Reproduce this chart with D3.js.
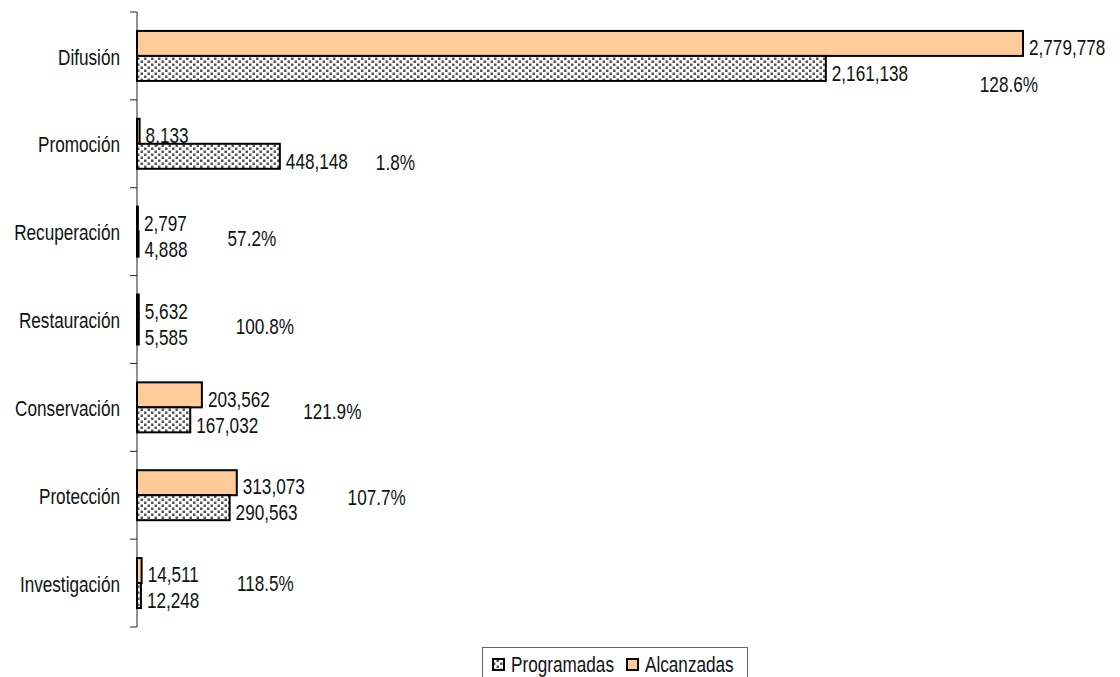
<!DOCTYPE html>
<html>
  <head>
    <meta charset="utf-8">
    <script src="https://cdn.jsdelivr.net/npm/d3@7/dist/d3.min.js"></script>
    <style>
      body{
        margin: 0;
        padding: 0;
        background-color: white;
      }
      svg text{
        font-family: "Liberation Sans", Arial, sans-serif;
        font-size: 22px;
        fill: #111;
      }
    </style>
  </head>
  <body>
    <div id="chart"></div>
    <script>
      // data
      var categories = ["Difusión", "Promoción", "Recuperación", "Restauración", "Conservación", "Protección", "Investigación"];
      var programadas = [2161138, 448148, 4888, 5585, 167032, 290563, 12248];
      var alcanzadas = [2779778, 8133, 2797, 5632, 203562, 313073, 14511];
      var seriesNames = ["Programadas", "Alcanzadas"];

      // hand placement of the % labels (dx from end of Programadas bar, dy from band centre)
      var pctNudge = [[154, 28], [96, 19], [89, 7], [97, 7], [113, 4], [118, 2], [96, 0]];

      var W = 1120, H = 677;
      var NARROW = 0.78; // squeeze Liberation Sans to look like Arial Narrow
      var svg = d3.select("#chart").append("svg").attr("width", W).attr("height", H);

      // text placed through a transform so it can be squeezed horizontally
      function narrowText(sel, xf, yf){
        return sel.append("text")
          .attr("transform", function(d, i){
            return "translate(" + xf(d, i) + "," + yf(d, i) + ") scale(" + NARROW + ",1)";
          })
          .attr("dy", "0.35em");
      }

      var defs = svg.append("defs");
      var pat = defs.append("pattern").attr("id", "dots")
        .attr("patternUnits", "userSpaceOnUse").attr("width", 7).attr("height", 6);
      pat.append("rect").attr("width", 7).attr("height", 6).attr("fill", "#fff");
      pat.append("rect").attr("x", 0.5).attr("y", 0.5).attr("width", 2.5).attr("height", 2.5).attr("fill", "#555");
      pat.append("rect").attr("x", 4).attr("y", 3.5).attr("width", 2.5).attr("height", 2.5).attr("fill", "#555");

      var x = d3.scaleLinear().domain([0, d3.max(alcanzadas)]).range([137, 1023]);
      var y = d3.scaleBand().domain(categories).range([12, 627]);
      var barH = 25;
      var fmt = d3.format(",");
      var mid = function(d){ return y(d) + y.bandwidth() / 2; };

      // axis
      var axis = svg.append("g").attr("transform", "translate(137,0)");
      axis.append("line").attr("x1", 0).attr("x2", 0).attr("y1", y.range()[0]).attr("y2", y.range()[1])
        .attr("stroke", "#222").attr("stroke-width", 1);
      var tickYs = categories.map(function(c){ return y(c); }).concat([y.range()[1]]);
      axis.selectAll(".tk").data(tickYs).enter().append("line")
        .attr("x1", -7).attr("x2", 0).attr("y1", function(d){ return d; }).attr("y2", function(d){ return d; })
        .attr("stroke", "#222");

      narrowText(svg.selectAll(".cat").data(categories).enter(),
          function(){ return 120; }, function(d){ return mid(d) + 1; })
        .attr("text-anchor", "end").text(function(d){ return d; });

      var g = svg.selectAll(".grp").data(categories).enter().append("g");

      // Alcanzadas on top, Programadas below
      g.append("rect")
        .attr("x", x(0)).attr("y", function(d){ return mid(d) - barH; })
        .attr("width", function(d, i){ return x(alcanzadas[i]) - x(0); }).attr("height", barH)
        .attr("fill", "#ffcc99").attr("stroke", "#000").attr("stroke-width", 2);
      g.append("rect")
        .attr("x", x(0)).attr("y", function(d){ return mid(d); })
        .attr("width", function(d, i){ return x(programadas[i]) - x(0); }).attr("height", barH)
        .attr("fill", "url(#dots)").attr("stroke", "#000").attr("stroke-width", 2);

      narrowText(g, function(d, i){ return x(alcanzadas[i]) + 6; },
          function(d){ return mid(d) - barH / 2 + 4; })
        .text(function(d, i){ return fmt(alcanzadas[i]); });
      narrowText(g, function(d, i){ return x(programadas[i]) + 6; },
          function(d){ return mid(d) + barH / 2 + 5; })
        .text(function(d, i){ return fmt(programadas[i]); });

      narrowText(g, function(d, i){ return x(programadas[i]) + pctNudge[i][0]; },
          function(d, i){ return mid(d) + pctNudge[i][1]; })
        .text(function(d, i){ return (alcanzadas[i] / programadas[i] * 100).toFixed(1) + "%"; });

      // legend
      var lg = svg.append("g").attr("transform", "translate(482,647)");
      lg.append("rect").attr("x", 0.5).attr("y", 0.5).attr("width", 265).attr("height", 40)
        .attr("fill", "#fff").attr("stroke", "#666");
      var fills = ["url(#dots)", "#ffcc99"];
      var lx = [11, 145];
      seriesNames.forEach(function(s, i){
        lg.append("rect").attr("x", lx[i]).attr("y", 12).attr("width", 11).attr("height", 11)
          .attr("fill", fills[i]).attr("stroke", "#000").attr("stroke-width", 2);
        lg.append("text").attr("transform", "translate(" + (lx[i] + 18) + ",17) scale(" + NARROW + ",1)")
          .attr("dy", "0.35em").text(s);
      });
    </script>
  </body>
</html>
